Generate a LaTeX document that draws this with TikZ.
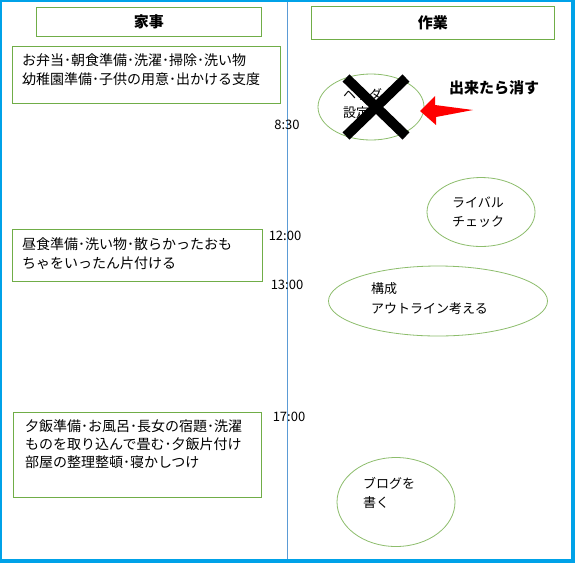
\documentclass[tikz,border=0pt]{standalone}
\usepackage{fontspec}
\setmainfont{Noto Sans CJK JP}
\usetikzlibrary{shapes.geometric,positioning}
\definecolor{rahmen}{HTML}{00A2E8}
\definecolor{mitte}{HTML}{5B9BD5}
\definecolor{gruen}{HTML}{70AD47}
\begin{document}
\begin{tikzpicture}[x=1pt, y=-1pt,
  kasten/.style={draw=gruen, line width=0.9pt, inner sep=0pt, anchor=north west},
  kopf/.style={kasten, font=\fontsize{15}{17}\selectfont\bfseries},
  txt/.style={inner sep=0pt, anchor=north west, align=left, font=\fontsize{14}{19}\selectfont},
  oval/.style={draw=gruen!80, line width=0.8pt, ellipse, inner sep=0pt},
  ovaltxt/.style={inner sep=0pt, anchor=west, align=left, font=\fontsize{13}{19.5}\selectfont},
  zeit/.style={inner sep=0pt, font=\fontsize{13}{15}\selectfont},
  ]
\useasboundingbox (0,0) rectangle (575,563);
%Rahmen
\fill[white] (0,0) rectangle (575,563);
\draw[rahmen, line width=1.5pt] (0.75,563) -- (0.75,0.75) -- (575,0.75);
\draw[rahmen, line width=4pt] (573,0) -- (573,561) -- (0,561);
\draw[mitte, line width=0.8pt] (287.5,1.5) -- (287.5,559);
%Spaltenkoepfe
\node[kopf, minimum width=225, minimum height=29] (kaji) at (36,7) {家事};
\node[kopf, minimum width=243, minimum height=33] (sagyo) at (311,6) {作業};
%Kaesten links
\node[kasten, minimum width=268, minimum height=57] (morgen) at (12,46) {};
\node[txt] (morgentxt) at ([xshift=10,yshift=-7]morgen.north west)
  {お弁当･朝食準備･洗濯･掃除･洗い物\\幼稚園準備･子供の用意･出かける支度};
\node[kasten, minimum width=250, minimum height=52] (mittag) at (12,229) {};
\node[txt] (mittagtxt) at ([xshift=10,yshift=-8]mittag.north west)
  {昼食準備･洗い物･散らかったおも\\ちゃをいったん片付ける};
\node[kasten, minimum width=248, minimum height=85] (abend) at (13,412) {};
\node[txt, font=\fontsize{14}{18}\selectfont] (abendtxt) at ([xshift=12,yshift=-7]abend.north west)
  {夕飯準備･お風呂･長女の宿題･洗濯\\ものを取り込んで畳む･夕飯片付け\\部屋の整理整頓･寝かしつけ};
%Uhrzeiten
\node[zeit] (t830) at (287,125) {8:30};
\node[zeit] (t1200) at (285,236) {12:00};
\node[zeit] (t1300) at (287,285) {13:00};
\node[zeit] (t1700) at (289,417) {17:00};
%Ellipsen rechts
\node[oval, minimum width=106, minimum height=66] (kopfzeile) at (371,107) {};
\node[ovaltxt, font=\fontsize{13}{18}\selectfont] (kopfzeiletxt) at ([xshift=-28,yshift=3]kopfzeile.center) {ヘッダー\\設定};
\node[oval, minimum width=108, minimum height=69] (rivale) at (481,212) {};
\node[ovaltxt] (rivaletxt) at ([xshift=-29]rivale.center) {ライバル\\チェック};
\node[oval, minimum width=219, minimum height=70] (aufbau) at (438,301) {};
\node[ovaltxt] (aufbautxt) at ([xshift=-67,yshift=2.5]aufbau.center) {構成\\アウトライン考える};
\node[oval, minimum width=118, minimum height=89] (blog) at (396,502) {};
\node[ovaltxt] (blogtxt) at ([xshift=-33,yshift=9]blog.center) {ブログを\\書く};
%Kreuz
\coordinate (kreuz) at ([xshift=5]kopfzeile.center);
\draw[line width=10pt] ([xshift=-30,yshift=29]kreuz) -- ([xshift=30,yshift=-29]kreuz);
\draw[line width=10pt] ([xshift=30,yshift=29]kreuz) -- ([xshift=-30,yshift=-29]kreuz);
%Pfeil
\coordinate (spitze) at (420,111);
\fill[red] (spitze) -- ++(15,-15) -- ++(0,9) -- (473,110) -- (436,117) -- ++(0,8) -- cycle;
\node[inner sep=0pt, font=\fontsize{15}{17}\selectfont\bfseries] (hinweis) at (494,88) {出来たら消す};
\end{tikzpicture}
\end{document}
